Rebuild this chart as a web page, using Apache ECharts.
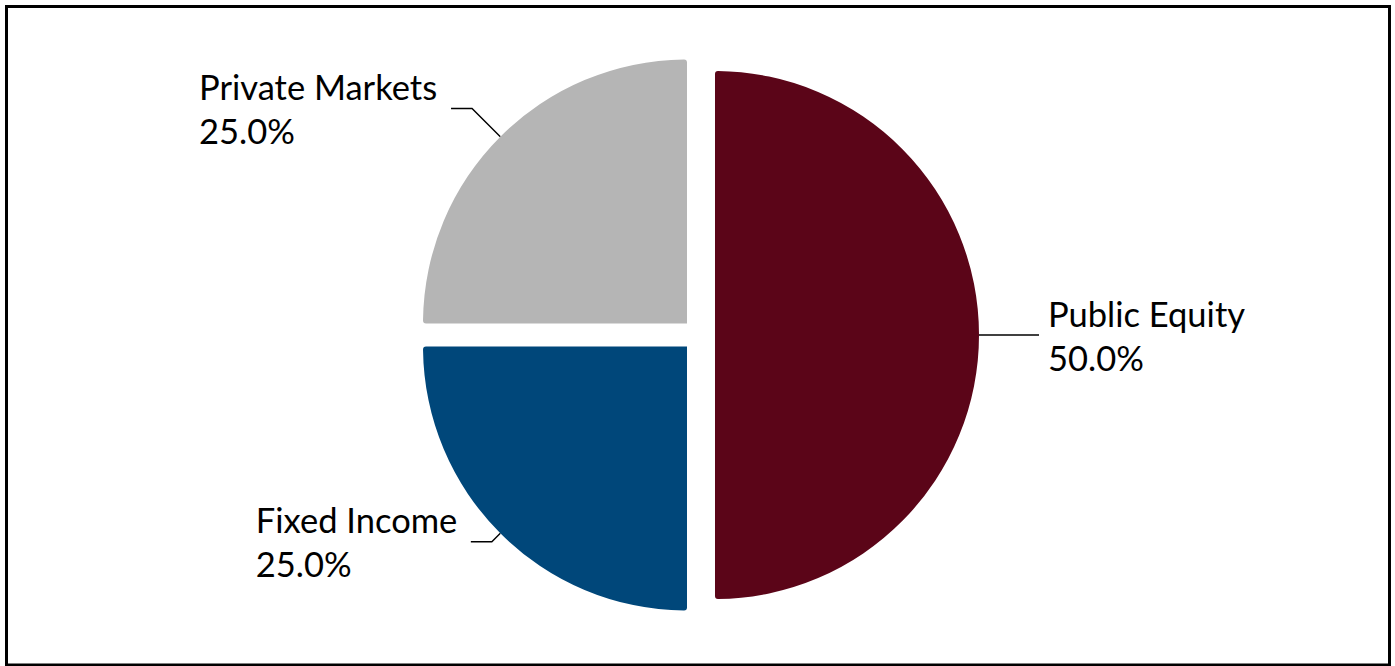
<!DOCTYPE html>
<html>
<head>
<meta charset="utf-8">
<style>
  html, body { margin: 0; padding: 0; background: #ffffff; }
  #chart { width: 1395px; height: 666px; }
</style>
<script src="https://cdn.jsdelivr.net/npm/echarts@6/dist/echarts.min.js"></script>
</head>
<body>
<div id="chart"></div>
<script>
// ---- data ----
var categories = ['Public Equity', 'Fixed Income', 'Private Markets'];
var values = [50, 25, 25];
var colors = ['#5B0518', '#00477A', '#B5B5B5'];
// label line segment lengths per slice (px)
var lineLen1 = [15, 12, 40];
var lineLen2 = [45, 21, 21];
var labelGap = [9, 12, 12];

var CX = 698.6, CY = 335, R = 264;
var FONT_FAMILY = 'Lato';
var FONT_SIZE = 34.5;

var total = values.reduce(function (a, b) { return a + b; }, 0);
var measureCtx = document.createElement('canvas').getContext('2d');
measureCtx.font = FONT_SIZE + 'px ' + FONT_FAMILY;
function textWidth(s) { return Math.ceil(measureCtx.measureText(s).width) + 1; }

var seriesData = categories.map(function (name, i) {
  var pct = (values[i] / total * 100).toFixed(1) + '%';
  var w = Math.max(textWidth(name), textWidth(pct));
  return {
    name: name,
    value: values[i],
    selected: true,
    itemStyle: { color: colors[i] },
    label: {
      distanceToLabelLine: labelGap[i],
      rich: { t: { width: w, align: 'left', fontFamily: FONT_FAMILY, fontSize: FONT_SIZE, lineHeight: 44, color: '#000000' } }
    },
    labelLine: { length: lineLen1[i], length2: lineLen2[i] }
  };
});

var chart = echarts.init(document.getElementById('chart'), null, { renderer: 'svg' });

chart.setOption({
  backgroundColor: '#ffffff',
  animation: false,
  graphic: [{
    type: 'rect',
    shape: { x: 6.5, y: 6.5, width: 1383, height: 658.5 },
    style: { fill: 'none', stroke: '#000000', lineWidth: 3 },
    z: 10
  }],
  series: [{
    type: 'pie',
    center: [CX, CY],
    radius: [0, R],
    startAngle: 90,
    clockwise: true,
    selectedMode: 'multiple',
    selectedOffset: 16.4,
    avoidLabelOverlap: false,
    itemStyle: { borderRadius: 3 },
    emphasis: { disabled: true },
    label: {
      show: true,
      position: 'outside',
      formatter: function (p) { return '{t|' + p.name + '}\n{t|' + p.percent.toFixed(1) + '%}'; },
      fontFamily: FONT_FAMILY,
      fontSize: FONT_SIZE,
      lineHeight: 44,
      color: '#000000'
    },
    labelLine: {
      show: true,
      smooth: false,
      lineStyle: { color: '#000000', width: 1.4 }
    },
    data: seriesData
  }]
});
</script>
</body>
</html>
